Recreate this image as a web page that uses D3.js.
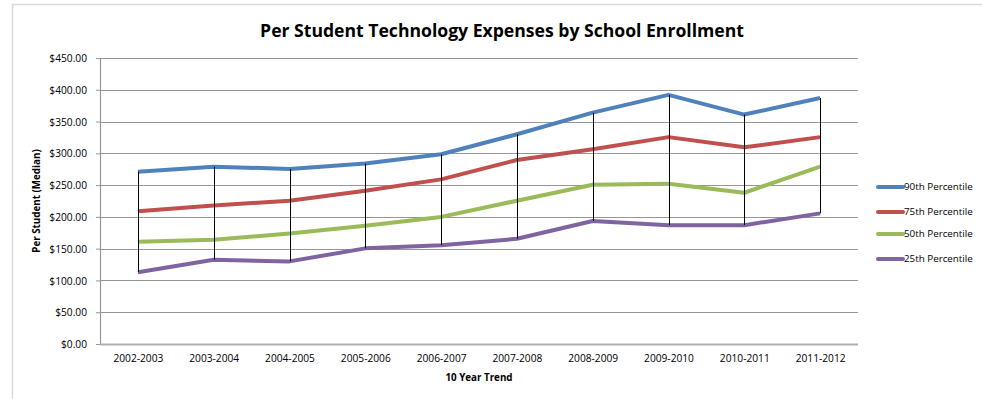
<!DOCTYPE html>
<html><head><meta charset="utf-8">
<script src="https://cdn.jsdelivr.net/npm/d3@7"></script>
<style>body{margin:0;background:#fff}svg{display:block}text{font-family:"Open Sans",Lato,sans-serif;fill:#000}</style>
</head><body><div id="c"></div>
<script>
const categories = ["2002-2003","2003-2004","2004-2005","2005-2006","2006-2007","2007-2008","2008-2009","2009-2010","2010-2011","2011-2012"];
const p90 = [271, 279, 275.5, 284, 298.5, 330, 364, 392, 361, 387];
const p75 = [209, 218, 225.5, 241, 259, 289.5, 306.5, 325.5, 309.5, 325.5];
const p50 = [161, 164, 174, 186, 200, 225.5, 250.5, 252, 238, 279];
const p25 = [113, 132.5, 130, 150.5, 155.5, 165.5, 193.5, 187, 187, 205.5];
const seriesNames = ["90th Percentile","75th Percentile","50th Percentile","25th Percentile"];
const seriesColors = ["#4F81BD","#C0504D","#9BBB59","#8064A2"];
const yTicks = [0,50,100,150,200,250,300,350,400,450];
const title = "Per Student Technology Expenses by School Enrollment";
const xTitle = "10 Year Trend";
const yTitle = "Per Student (Median)";

const W = 982, H = 399;
const m = {l:100, r:858, t:58, b:344};
const svg = d3.select("#c").append("svg").attr("width",W).attr("height",H);
svg.append("rect").attr("x",12.5).attr("y",4.5).attr("width",1100).attr("height",500)
  .attr("fill","#fff").attr("stroke","#d9d9d9").attr("stroke-width",1.5);

const x = d3.scalePoint().domain(categories).range([m.l, m.r]).padding(0.5);
const y = d3.scaleLinear().domain([0,450]).range([m.b, m.t]);

// gridlines
svg.append("g").selectAll("line").data(yTicks.filter(d=>d>0)).join("line")
  .attr("x1",m.l).attr("x2",m.r).attr("y1",d=>Math.round(y(d))+0.5).attr("y2",d=>Math.round(y(d))+0.5)
  .attr("stroke","#969696").attr("stroke-width",1.2);

// y axis
const ya = svg.append("g").attr("transform",`translate(${m.l},0)`)
  .call(d3.axisLeft(y).tickValues(yTicks).tickSize(4).tickFormat(d=>"$"+d3.format(".2f")(d)));
ya.select(".domain").attr("stroke","#969696").attr("stroke-width",1.2);
ya.selectAll(".tick line").attr("stroke","#969696");
ya.selectAll("text").attr("font-size",10.2).attr("x",-13).attr("dy","0.35em").attr("fill","#000");

// x axis
const xa = svg.append("g").attr("transform",`translate(0,${m.b})`)
  .call(d3.axisBottom(x).tickSize(0));
xa.select(".domain").attr("d",`M${m.l},0.5H${m.r}`).attr("stroke","#b0b0b0").attr("stroke-width",2);
xa.selectAll("text").attr("font-size",10.2).attr("y",11).attr("fill","#000");

const all = [p90,p75,p50,p25];
const line = d3.line().x((d,i)=>x(categories[i])).y(d=>y(d));
svg.append("g").selectAll("path").data(all).join("path")
  .attr("d",d=>line(d)).attr("fill","none").attr("stroke",(d,i)=>seriesColors[i])
  .attr("stroke-width",4).attr("stroke-linejoin","round");

// high-low lines
svg.append("g").selectAll("line").data(categories).join("line")
  .attr("x1",d=>Math.round(x(d))+0.5).attr("x2",d=>Math.round(x(d))+0.5)
  .attr("y1",(d,i)=>y(d3.max(all,s=>s[i]))).attr("y2",(d,i)=>y(d3.min(all,s=>s[i])))
  .attr("stroke","#000").attr("stroke-width",1);

// title
svg.append("text").attr("x",502).attr("y",37).attr("text-anchor","middle")
  .attr("font-size",17.6).attr("font-weight","bold").text(title);
svg.append("text").attr("x",(m.l+m.r)/2).attr("y",381).attr("text-anchor","middle")
  .attr("font-size",9.8).attr("font-weight","bold").text(xTitle);
svg.append("text").attr("transform",`translate(40,${(m.t+m.b)/2}) rotate(-90)`).attr("text-anchor","middle")
  .attr("font-size",9.8).attr("font-weight","bold").text(yTitle);

// legend
const lg = svg.append("g").selectAll("g").data(seriesNames).join("g")
  .attr("transform",(d,i)=>`translate(878,${[187,212,234,259][i]})`);
lg.append("line").attr("x1",0).attr("x2",25).attr("stroke",(d,i)=>seriesColors[i])
  .attr("stroke-width",4).attr("stroke-linecap","round");
lg.append("text").attr("x",26).attr("dy","0.35em").attr("font-size",9.8).text(d=>d);
</script></body></html>
